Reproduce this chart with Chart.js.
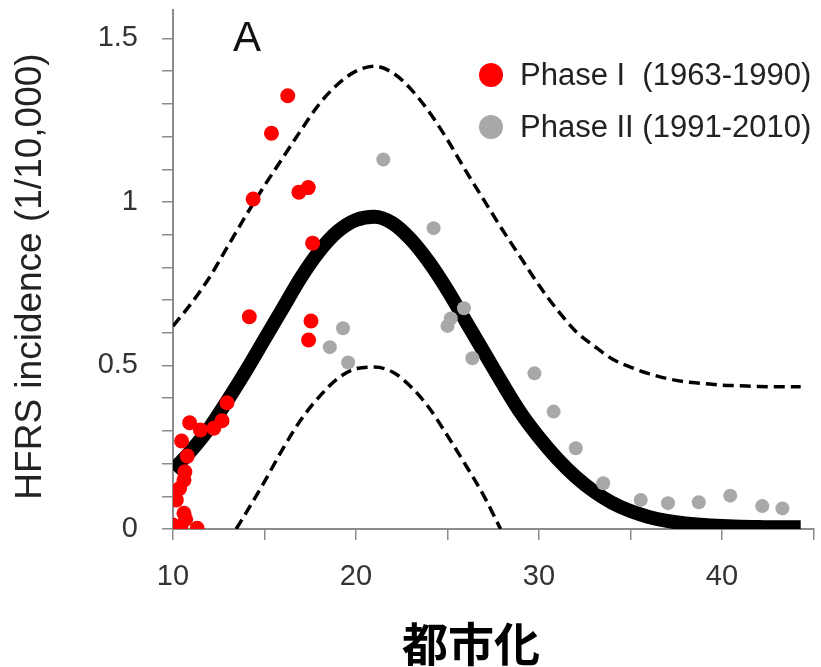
<!DOCTYPE html>
<html>
<head>
<meta charset="utf-8">
<script src="https://cdn.jsdelivr.net/npm/chart.js@4.4.0/dist/chart.umd.min.js"></script>
<style>
  html, body { margin: 0; padding: 0; background: #fff; }
  #wrap { width: 821px; height: 667px; }
</style>
</head>
<body>
<div id="wrap"><canvas id="hfrsChart" width="821" height="667"></canvas></div>
<script>
// 都市化とHFRS発生率（パネルA）
const panelLetter = 'A';
const xTitle = '都市化';
const yTitle = 'HFRS incidence (1/10,000)';
const phase1Label = 'Phase I  (1963-1990)';
const phase2Label = 'Phase II (1991-2010)';

// Phase I の観測値
const phase1X = [16.27, 15.38, 14.38, 16.88, 17.39, 17.63, 14.17, 17.54, 17.41, 12.95, 12.68, 12.23, 11.5,
  10.91, 10.47, 10.78, 10.65, 10.6, 10.36, 10.18, 10.6, 10.69, 10.0, 10.42, 11.32];
const phase1Y = [1.325, 1.21, 1.009, 1.03, 1.044, 0.874, 0.649, 0.636, 0.578, 0.386, 0.331, 0.308, 0.303,
  0.325, 0.269, 0.223, 0.175, 0.15, 0.124, 0.089, 0.048, 0.03, 0.012, 0.007, 0.002];

// Phase II の観測値
const phase2X = [21.49, 24.24, 19.29, 18.57, 19.57, 25.0, 25.18, 25.9, 26.36, 29.75, 30.8, 32.01, 33.51,
  35.56, 37.05, 38.73, 40.45, 42.2, 43.3];
const phase2Y = [1.13, 0.92, 0.614, 0.556, 0.509, 0.621, 0.644, 0.675, 0.522, 0.476, 0.359, 0.247, 0.14,
  0.089, 0.079, 0.082, 0.102, 0.07, 0.063];

// あてはめ曲線と上下の範囲
const fitX = [10, 11, 12, 13, 14, 15, 16, 17, 18, 19, 20, 21, 22, 23, 24, 25, 26, 27,
  28, 29, 30, 31, 32, 33, 34, 35, 36, 37, 38, 39, 40, 41, 42, 43, 44.3];
const fitY = [0.18, 0.24, 0.31, 0.395, 0.485, 0.58, 0.675, 0.77, 0.85, 0.91, 0.945, 0.955, 0.935, 0.885,
  0.815, 0.73, 0.635, 0.54, 0.445, 0.355, 0.28, 0.215, 0.16, 0.115, 0.08, 0.055, 0.037, 0.025, 0.017,
  0.012, 0.009, 0.007, 0.006, 0.005, 0.005];
const upperY = [0.62, 0.69, 0.77, 0.865, 0.96, 1.05, 1.135, 1.22, 1.30, 1.36, 1.40, 1.415, 1.395, 1.345,
  1.275, 1.19, 1.095, 1.005, 0.915, 0.83, 0.745, 0.67, 0.605, 0.56, 0.52, 0.495, 0.475, 0.46, 0.45,
  0.445, 0.44, 0.438, 0.436, 0.435, 0.435];
const lowerX = [13.45, 14, 15, 16, 17, 18, 19, 20, 21, 22, 23, 24, 25, 26, 27, 27.9];
const lowerY = [0, 0.05, 0.145, 0.245, 0.335, 0.405, 0.46, 0.49, 0.495, 0.48, 0.435, 0.37, 0.285, 0.195, 0.1, 0];

const red = '#ff0000';
const grey = '#a8a8a8';
const axisGrey = '#8c8c8c';
const fontFamily = '"Liberation Sans", Arial, sans-serif';

const toPoints = (xs, ys) => xs.map((x, i) => ({ x: x, y: ys[i] }));

// パネル文字・凡例・軸タイトルを描く
const annotations = {
  id: 'annotations',
  afterDraw(chart) {
    const ctx = chart.ctx;
    const a = chart.chartArea;
    ctx.save();
    ctx.textBaseline = 'middle';

    ctx.fillStyle = '#111';
    ctx.font = '42px ' + fontFamily;
    ctx.textAlign = 'center';
    ctx.fillText(panelLetter, a.left + 74, a.top + 29);

    const items = [
      { label: phase1Label, color: red },
      { label: phase2Label, color: grey }
    ];
    ctx.font = '31px ' + fontFamily;
    ctx.textAlign = 'left';
    items.forEach((it, i) => {
      const y = a.top + 65 + i * 52;
      ctx.fillStyle = it.color;
      ctx.beginPath();
      ctx.arc(a.left + 318, y, 12, 0, Math.PI * 2);
      ctx.fill();
      ctx.fillStyle = '#222';
      ctx.fillText(it.label, a.left + 347, y + 1);
    });

    ctx.fillStyle = '#222';
    ctx.font = '37px ' + fontFamily;
    ctx.textAlign = 'center';
    ctx.translate(31, (a.top + a.bottom) / 2 + 7);
    ctx.rotate(-Math.PI / 2);
    ctx.fillText(yTitle, 0, 0);
    ctx.restore();

    ctx.save();
    ctx.fillStyle = '#000';
    ctx.font = 'bold 46px "Noto Sans CJK JP", "Noto Sans CJK SC", sans-serif';
    ctx.textAlign = 'center';
    ctx.textBaseline = 'middle';
    ctx.fillText(xTitle, a.left + 298, 644);
    ctx.restore();
  }
};

const ctx = document.getElementById('hfrsChart');
const chart = new Chart(ctx.getContext('2d'), {
  type: 'scatter',
  data: {
    datasets: [
      {
        label: phase1Label,
        data: toPoints(phase1X, phase1Y),
        backgroundColor: red,
        borderWidth: 0,
        pointRadius: 7.5,
        order: 0
      },
      {
        label: phase2Label,
        data: toPoints(phase2X, phase2Y),
        backgroundColor: grey,
        borderWidth: 0,
        pointRadius: 7,
        order: 1
      },
      {
        label: 'fit',
        data: toPoints(fitX, fitY),
        showLine: true,
        borderColor: '#000',
        borderWidth: 14,
        pointRadius: 0,
        cubicInterpolationMode: 'monotone',
        order: 2
      },
      {
        label: 'upper',
        data: toPoints(fitX, upperY),
        showLine: true,
        borderColor: '#000',
        borderWidth: 3.5,
        borderDash: [11, 6],
        pointRadius: 0,
        cubicInterpolationMode: 'monotone',
        order: 3
      },
      {
        label: 'lower',
        data: toPoints(lowerX, lowerY),
        showLine: true,
        borderColor: '#000',
        borderWidth: 3.5,
        borderDash: [11, 6],
        pointRadius: 0,
        cubicInterpolationMode: 'monotone',
        order: 3
      }
    ]
  },
  options: {
    responsive: false,
    animation: false,
    events: [],
    layout: { padding: { top: 10, right: -4, left: 0, bottom: 0 } },
    plugins: {
      legend: { display: false },
      tooltip: { enabled: false }
    },
    scales: {
      x: {
        type: 'linear',
        min: 10,
        max: 45,
        afterFit: s => { s.height = 138; s.paddingLeft = 0; s.paddingRight = 0; },
        ticks: {
          stepSize: 5,
          autoSkip: false,
          maxRotation: 0,
          padding: 20,
          color: '#333',
          font: { family: fontFamily, size: 29 },
          callback: v => (v % 10 === 0 ? String(v) : '')
        },
        grid: { drawOnChartArea: false, drawTicks: true, tickLength: 11, color: axisGrey, lineWidth: 1.5 },
        border: { display: true, color: axisGrey, width: 2 }
      },
      y: {
        min: 0,
        max: 1.587,
        afterFit: s => { s.width = 173; s.paddingTop = 0; s.paddingBottom = 0; },
        ticks: {
          stepSize: 0.1,
          includeBounds: false,
          autoSkip: false,
          padding: 24,
          color: '#333',
          font: { family: fontFamily, size: 29 },
          callback: v => (Math.abs(v * 2 - Math.round(v * 2)) < 1e-6 ? String(Math.round(v * 10) / 10) : '')
        },
        grid: { drawOnChartArea: false, drawTicks: true, tickLength: 11, color: axisGrey, lineWidth: 1.5 },
        border: { display: true, color: axisGrey, width: 2 }
      }
    }
  },
  plugins: [annotations]
});
</script>
</body>
</html>
